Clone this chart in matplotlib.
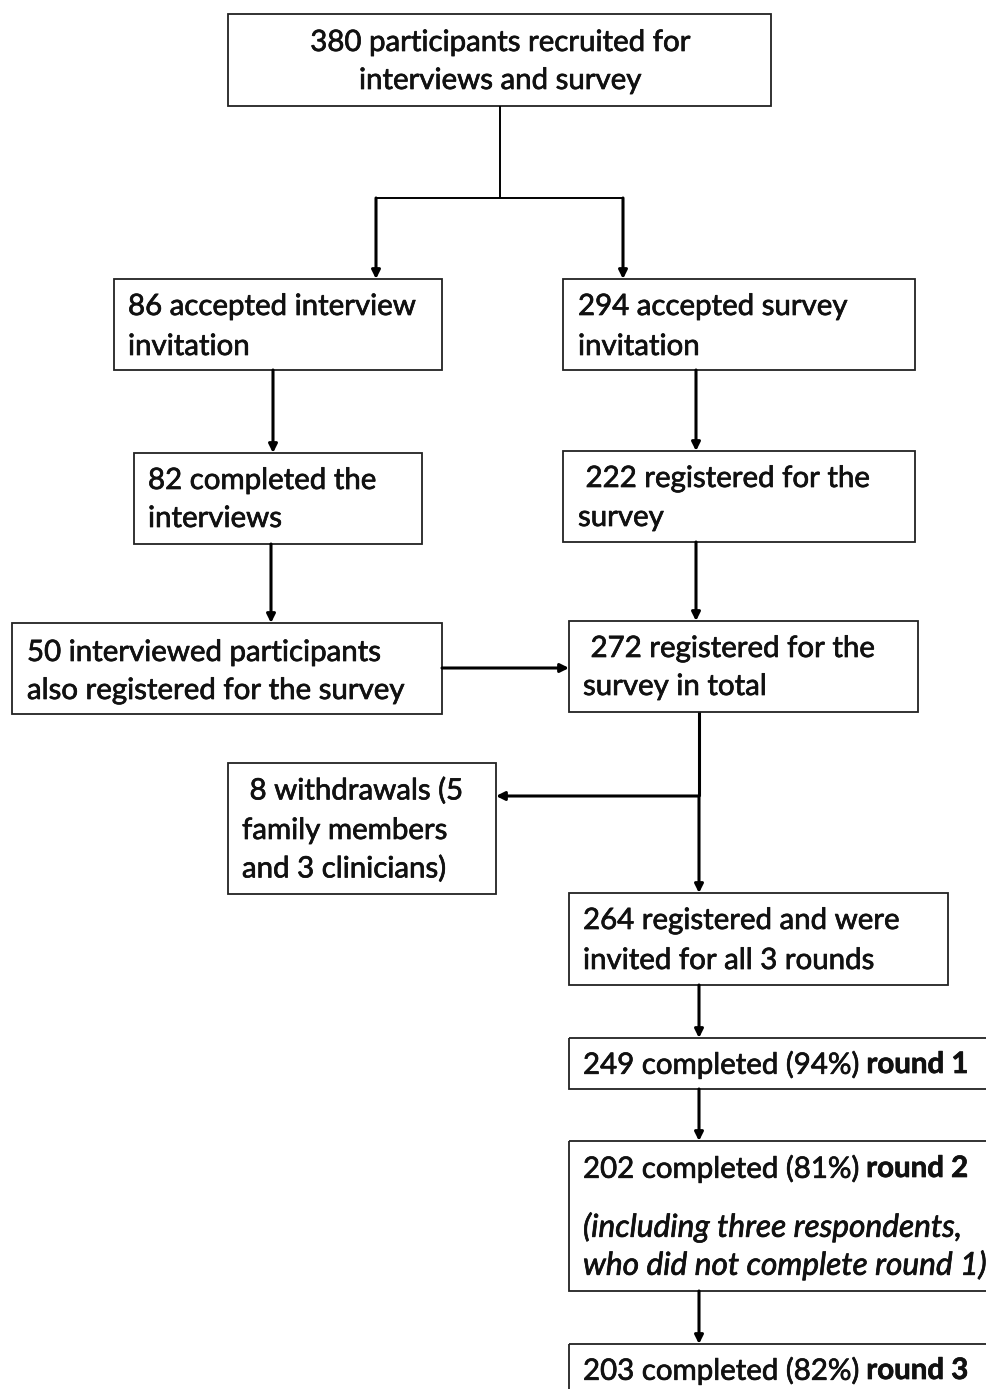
import matplotlib
matplotlib.use("Agg")
import matplotlib.pyplot as plt
import matplotlib.patheffects as pe
from matplotlib.patches import Rectangle

plt.rcParams['font.family'] = ['Lato', 'DejaVu Sans']

W, H = 987, 1389
FS = 21.2
FS_IT = 22.8

# box texts: each line is a list of (text, weight, style) pieces
box_lines = {
    'recruited': [[("380 participants recruited for", 'normal', 'normal')],
                  [("interviews and survey", 'normal', 'normal')]],
    'acc_int': [[("86 accepted interview", 'normal', 'normal')],
                [("invitation", 'normal', 'normal')]],
    'acc_sur': [[("294 accepted survey", 'normal', 'normal')],
                [("invitation", 'normal', 'normal')]],
    'comp_int': [[("82 completed the", 'normal', 'normal')],
                 [("interviews", 'normal', 'normal')]],
    'reg_sur': [[(" 222 registered for the", 'normal', 'normal')],
                [("survey", 'normal', 'normal')]],
    'int_reg': [[("50 interviewed participants", 'normal', 'normal')],
                [("also registered for the survey", 'normal', 'normal')]],
    'reg_total': [[(" 272 registered for the", 'normal', 'normal')],
                  [("survey in total", 'normal', 'normal')]],
    'withdraw': [[(" 8 withdrawals (5", 'normal', 'normal')],
                 [("family members", 'normal', 'normal')],
                 [("and 3 clinicians)", 'normal', 'normal')]],
    'invited': [[("264 registered and were", 'normal', 'normal')],
                [("invited for all 3 rounds", 'normal', 'normal')]],
    'round1': [[("249 completed (94%) ", 'normal', 'normal'), ("round 1", 'bold', 'normal')]],
    'round2': [[("202 completed (81%) ", 'normal', 'normal'), ("round 2", 'bold', 'normal')],
               [("(including three respondents,", 'normal', 'italic')],
               [("who did not complete round 1)", 'normal', 'italic')]],
    'round3': [[("203 completed (82%) ", 'normal', 'normal'), ("round 3", 'bold', 'normal')]],
}

# layout in pixels: x0, y0, x1, y1, text x, line y positions, centred?
layout = {
    'recruited': (228, 14, 771, 106, 500, [43, 81], True),
    'acc_int':   (114, 279, 442, 370, 128, [307, 347], False),
    'acc_sur':   (563, 279, 915, 370, 578, [307, 347], False),
    'comp_int':  (134, 453, 422, 544, 148, [481, 519], False),
    'reg_sur':   (563, 451, 915, 542, 578, [479, 518], False),
    'int_reg':   (12, 623, 442, 714, 27, [653, 691], False),
    'reg_total': (569, 621, 918, 712, 583, [649, 687], False),
    'withdraw':  (228, 763, 496, 894, 242, [791, 831, 869], False),
    'invited':   (569, 893, 948, 985, 583, [921, 961], False),
    'round1':    (569, 1038, 995, 1089, 583, [1065], False),
    'round2':    (569, 1141, 995, 1291, 583, [1169, 1227, 1265], False),
    'round3':    (569, 1344, 995, 1400, 583, [1371], False),
}

fig = plt.figure(figsize=(W / 100, H / 100), dpi=100)
ax = fig.add_axes([0, 0, 1, 1])
ax.set_xlim(0, W)
ax.set_ylim(H, 0)
ax.axis('off')
fig.canvas.draw()
renderer = fig.canvas.get_renderer()

# slightly heavier strokes, like the original screen rendering
heavy = [pe.withStroke(linewidth=0.5, foreground='#111111')]

for key, lines in box_lines.items():
    x0, y0, x1, y1, tx, ys, centred = layout[key]
    ax.add_patch(Rectangle((x0, y0), x1 - x0, y1 - y0, fill=False,
                           edgecolor='#222222', linewidth=1.3))
    for pieces, ly in zip(lines, ys):
        if centred:
            full = ''.join(p[0] for p in pieces)
            ax.text(tx, ly, full, ha='center', va='center', fontsize=FS,
                    color='#111111', path_effects=heavy)
            continue
        x = tx
        for txt, wt, st in pieces:
            t = ax.text(x, ly, txt, ha='left', va='center',
                        fontsize=FS_IT if st == 'italic' else FS,
                        fontweight=wt, fontstyle=st, color='#111111',
                        path_effects=heavy)
            bb = t.get_window_extent(renderer)
            x += bb.width  # axes pixels == figure pixels here

def line(xs, ys, lw=1.4):
    ax.plot(xs, ys, color='black', linewidth=lw, solid_capstyle='butt')

def arrow(x_from, y_from, x_to, y_to, lw=2.2):
    ax.annotate('', xy=(x_to, y_to), xytext=(x_from, y_from),
                arrowprops=dict(arrowstyle='-|>,head_length=0.5,head_width=0.25',
                                color='black', lw=lw, shrinkA=0, shrinkB=0))

# connectors
line([500, 500], [106, 198])
line([376, 623], [198, 198])
arrow(376, 198, 376, 279)
arrow(623, 198, 623, 279)
arrow(273, 370, 273, 453)
arrow(696, 370, 696, 451)
arrow(271, 544, 271, 623)
arrow(696, 542, 696, 621)
arrow(442, 668, 569, 668)
line([699, 699], [712, 796], lw=2.2)
arrow(699, 796, 496, 796)
arrow(699, 796, 699, 893)
arrow(699, 985, 699, 1038)
arrow(699, 1089, 699, 1141)
arrow(699, 1291, 699, 1344)

fig.savefig('out.png', dpi=100)
